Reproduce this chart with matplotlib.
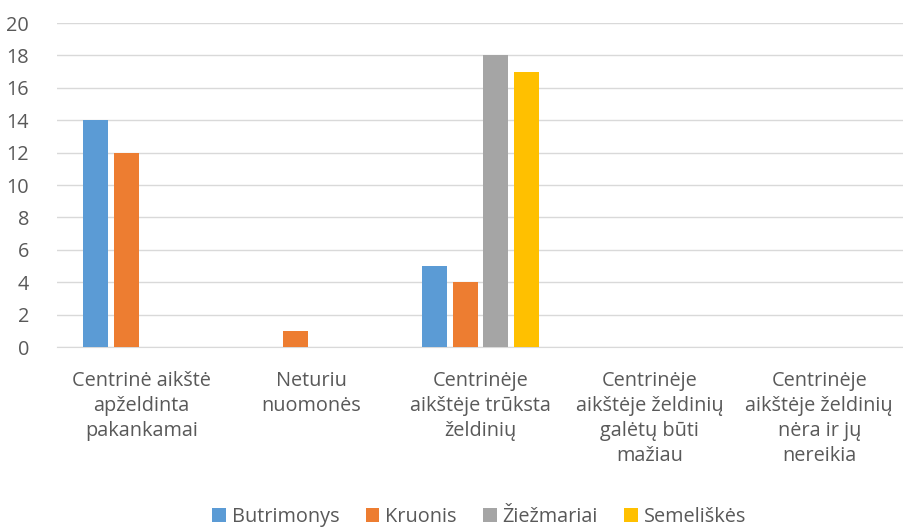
import matplotlib.pyplot as plt
import numpy as np

plt.rcParams['font.family'] = ['Open Sans', 'DejaVu Sans']

categories = ['Centrinė aikštė\napželdinta\npakankamai',
              'Neturiu\nnuomonės',
              'Centrinėje\naikštėje trūksta\nželdinių',
              'Centrinėje\naikštėje želdinių\ngalėtų būti\nmažiau',
              'Centrinėje\naikštėje želdinių\nnėra ir jų\nnereikia']
series = ['Butrimonys', 'Kruonis', 'Žiežmariai', 'Semeliškės']
butrimonys = [14, 0, 5, 0, 0]
kruonis = [12, 1, 4, 0, 0]
ziezmariai = [0, 0, 18, 0, 0]
semeliskes = [0, 0, 17, 0, 0]
colors = ['#5B9BD5', '#ED7D31', '#A5A5A5', '#FFC000']

fig = plt.figure(figsize=(9.04, 5.29), dpi=100)
ax = fig.add_axes([0.063, 0.344, 0.937, 0.6125])

x = np.arange(len(categories))
w = 0.147
step = 0.182
for i, (name, vals) in enumerate(zip(series, [butrimonys, kruonis, ziezmariai, semeliskes])):
    ax.bar(x + (i - 1.5) * step, vals, w, color=colors[i], label=name, linewidth=0, zorder=3)

ax.set_ylim(0, 20)
ax.set_yticks(range(0, 21, 2))
ax.set_xlim(-0.5, len(categories) - 0.5)
ax.set_xticks(x)
ax.set_xticklabels(categories, linespacing=1.34)
ax.grid(axis='y', color='#D9D9D9', linewidth=1, zorder=0)
for s in ['top', 'right', 'left']:
    ax.spines[s].set_visible(False)
ax.spines['bottom'].set_color('#D9D9D9')
ax.tick_params(axis='both', length=0, labelsize=14.3, colors='#595959')
ax.tick_params(axis='x', pad=17)
ax.tick_params(axis='y', pad=20)

fig.legend(loc='center', bbox_to_anchor=(0.53, 0.022), ncol=4, frameon=False,
           fontsize=14.3, labelcolor='#595959', handlelength=0.7, handleheight=0.7,
           handletextpad=0.3, columnspacing=1.3)

fig.savefig('out.png', dpi=100)
